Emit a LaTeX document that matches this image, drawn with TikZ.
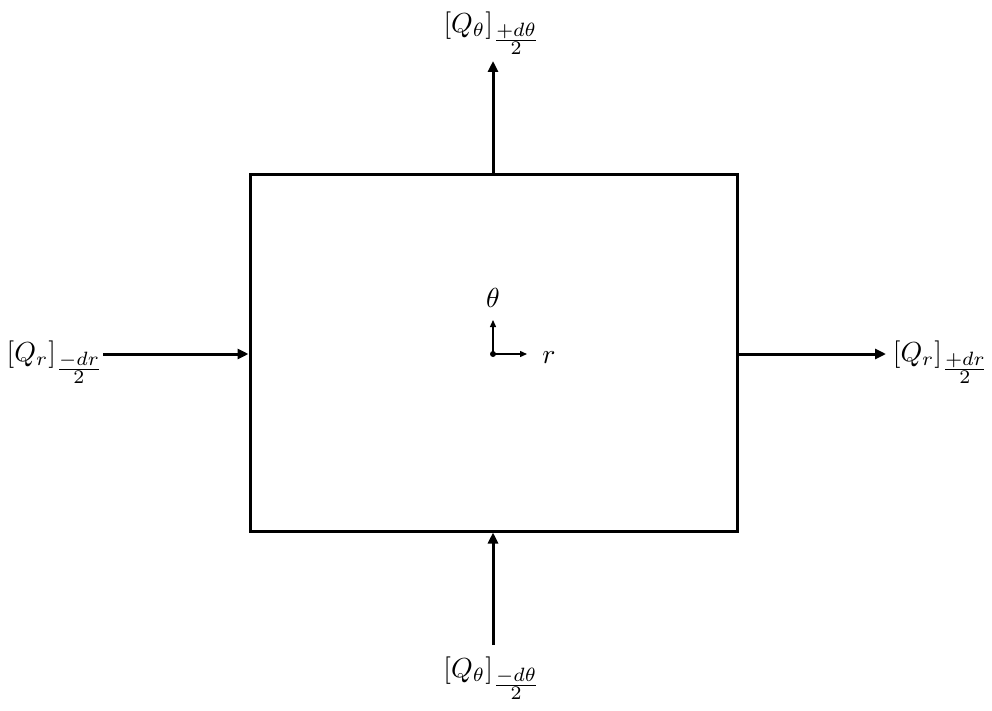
\documentclass[tikz,border=0pt]{standalone}
\usepackage{amsmath}
\usetikzlibrary{arrows.meta}
\begin{document}
\begin{tikzpicture}[x=1pt,y=-1pt,
  flux/.style={line width=3pt,-{Triangle[length=11pt,width=10pt]}},
  axis/.style={line width=1.3pt,-{Triangle[length=7pt,width=6pt]}},
  lbl/.style={inner sep=0pt,scale=2.75}]
\useasboundingbox (0,0) rectangle (992,711);
\node[draw,line width=3pt,minimum width=487pt,minimum height=356pt,inner sep=0pt] (box) at (493.5,353) {};
\coordinate (c) at (493,354);
\coordinate (ct) at (493,320);
\coordinate (cr) at (527,354);
\fill (c) circle (3pt);
\draw[axis] (c) -- (ct);
\draw[axis] (c) -- (cr);
\node[lbl] (th) at (493,298) {$\theta$};
\node[lbl] (rr) at (549,358) {$r$};
\node[lbl] (top) at (492,33) {$[Q_\theta]_{\frac{\scriptstyle +d\theta}{\scriptstyle 2}}$};
\node[lbl] (bot) at (492,678) {$[Q_\theta]_{\frac{\scriptstyle -d\theta}{\scriptstyle 2}}$};
\node[lbl] (lft) at (55,362) {$[Q_r]_{\frac{\scriptstyle -dr}{\scriptstyle 2}}$};
\node[lbl] (rgt) at (941,362) {$[Q_r]_{\frac{\scriptstyle +dr}{\scriptstyle 2}}$};
\coordinate (ta) at (493,61);
\coordinate (ba) at (493,645);
\coordinate (la) at (103,354);
\coordinate (ra) at (886,354);
\draw[flux] (box.north -| c) -- (ta);
\draw[flux] (ba) -- (box.south -| c);
\draw[flux] (la) -- (box.west |- c);
\draw[flux] (box.east |- c) -- (ra);
\end{tikzpicture}
\end{document}
